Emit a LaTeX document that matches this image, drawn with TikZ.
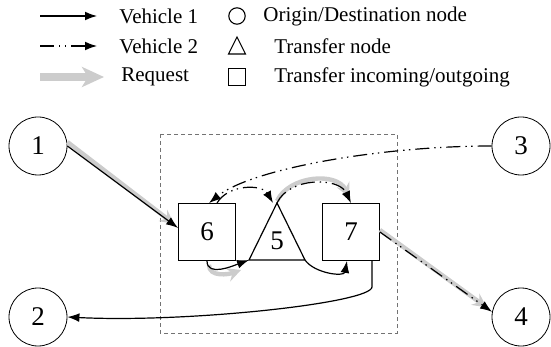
\documentclass[tikz,border=0pt]{standalone}
\usepackage{fontspec}
\setmainfont{Liberation Serif}
\usetikzlibrary{arrows.meta}
\colorlet{reqgray}{black!20}
\colorlet{boxgray}{black!55}

\begin{document}
\begin{tikzpicture}[x=0.5pt, y=0.5pt,
      font=\fontsize{10.5}{12}\selectfont,
      place/.style  = {draw, circle, minimum size=29pt, inner sep=0pt,
                       font=\fontsize{13.5}{15}\selectfont},
      xfer/.style   = {draw, rectangle, minimum size=28.5pt, inner sep=0pt,
                       font=\fontsize{13.5}{15}\selectfont},
      legtext/.style= {anchor=west, inner sep=0pt},
      veh1/.style   = {-{Latex[length=6pt, width=4.4pt]}, line width=0.6pt},
      veh2/.style   = {veh1, dash pattern=on 7pt off 2.5pt on 0.7pt off 2.2pt on 0.7pt off 2.5pt},
      req/.style    = {-{Stealth[length=7pt, width=7pt, inset=2.5pt]},
                       line width=2.2pt, draw=reqgray, color=reqgray}
    ]
    \useasboundingbox (0,0) rectangle (551,-347);

    % legend
    \coordinate (l1a) at (40,-16);  \coordinate (l1b) at (97,-16);
    \coordinate (l2a) at (40,-46);  \coordinate (l2b) at (97,-46);
    \coordinate (l3a) at (40,-77);  \coordinate (l3b) at (104,-77);
    \draw[veh1] (l1a) -- (l1b);
    \draw[veh2] (l2a) -- (l2b);
    \draw[req, line width=3.6pt, -{Stealth[length=11pt, width=10pt, inset=3pt]}] (l3a) -- (l3b);
    \node[legtext] (lv1) at (119,-16) {Vehicle 1};
    \node[legtext] (lv2) at (119,-46) {Vehicle 2};
    \node[legtext] (lrq) at (121,-77) {Request};
    \node[draw, circle, minimum size=8.2pt, inner sep=0pt, line width=0.55pt] (lcir) at (237,-16) {};
    \draw[line width=0.55pt] (237,-37) -- (228.5,-54) -- (245.5,-54) -- cycle;
    \node[draw, rectangle, minimum size=8.2pt, inner sep=0pt, line width=0.55pt] (lsq) at (237,-77) {};
    \node[legtext] (lod) at (263,-16) {Origin/Destination node};
    \node[legtext] (ltn) at (274,-46) {Transfer node};
    \node[legtext] (lio) at (274,-77) {Transfer incoming/outgoing};

    % transfer area
    \draw[boxgray, line width=0.4pt, dash pattern=on 2pt off 1.5pt]
      (160,-134) rectangle (397,-333);

    % nodes
    \node[place] (n1) at (38,-146)  {1};
    \node[place] (n2) at (38,-317)  {2};
    \node[place] (n3) at (521,-146) {3};
    \node[place] (n4) at (521,-317) {4};
    \node[xfer]  (n6) at (207,-232) {6};
    \node[xfer]  (n7) at (351,-232) {7};
    \coordinate (t5top)   at (277,-203);
    \coordinate (t5left)  at (249,-260);
    \coordinate (t5right) at (305,-260);
    \draw[line width=0.6pt] (t5top) -- (t5left) -- (t5right) -- cycle;
    \node[inner sep=0pt, font=\fontsize{13.5}{15}\selectfont] (n5) at (277,-241) {5};

    % request path
    \draw[req] ([yshift=2pt]n1.east) -- ([xshift=-2pt, yshift=4pt]n6.west);
    \draw[req] ([xshift=1pt, yshift=-2pt]n6.south) to[out=-90, in=200] ([xshift=-4pt, yshift=-5pt]t5left);
    \draw[req] ([yshift=1pt]t5top) to[out=65, in=115] ([xshift=-1pt, yshift=3pt]n7.north);
    \draw[req] ([yshift=1pt]n7.east) -- ([xshift=-3pt, yshift=1pt]n4.165);

    % vehicle 1
    \draw[veh1] (n1.east) -- ([yshift=2pt]n6.west);
    \draw[veh1] (n6.south) to[out=-90, in=200] (t5left);
    \draw[veh1] (t5right) to[out=-55, in=-100] ([xshift=-2pt]n7.south);
    \draw[veh1] ([xshift=10.5pt]n7.south) -- ++(0,-13pt)
      .. controls +(0,-8pt) and +(60pt,-3pt) .. (n2.east);

    % vehicle 2
    \draw[veh2] (n3.west) .. controls +(-56pt,0) and +(21pt,17pt) .. ([xshift=1pt]n6.north);
    \draw[veh2] ([xshift=5pt]n6.north) to[out=60, in=120] ([xshift=-2pt]t5top);
    \draw[veh2] (t5top) to[out=65, in=115] (n7.north);
    \draw[veh2] (n7.east) -- (n4.170);
  \end{tikzpicture}
\end{document}
